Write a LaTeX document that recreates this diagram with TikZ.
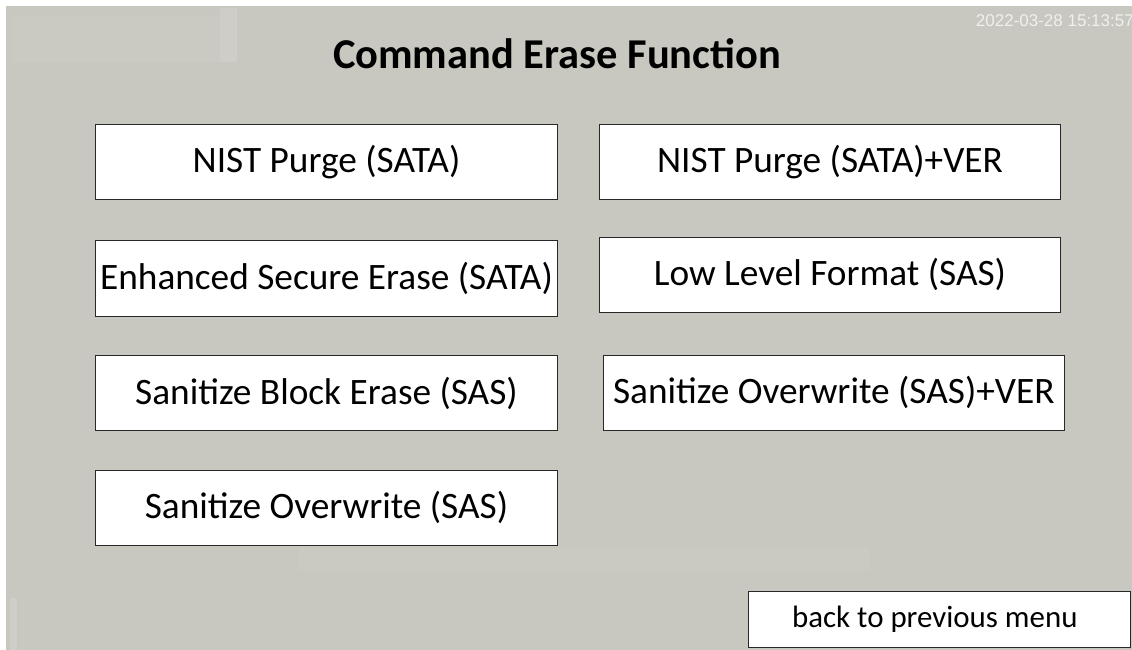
\documentclass[tikz,border=0pt]{standalone}
\usepackage{fontspec}
\setmainfont{Carlito}
\newfontfamily\stampfont{Liberation Sans}
\definecolor{bg}{RGB}{200,200,192}
\definecolor{bglight}{RGB}{202,202,195}
\definecolor{bglighter}{RGB}{206,205,199}
\definecolor{edge}{RGB}{40,40,40}
\definecolor{stamp}{RGB}{240,240,238}
\begin{document}
\begin{tikzpicture}[x=1pt,y=1pt,
  btn/.style={draw=edge, line width=0.9pt, fill=white, inner sep=0pt,
    font=\fontsize{37.3}{41}\selectfont, text=black},
  title/.style={font=\fontsize{42.5}{48}\selectfont\bfseries, text=black, inner sep=0pt},
  stamptext/.style={font=\stampfont\fontsize{17}{19}\selectfont, text=stamp, inner sep=0pt}]
\useasboundingbox (0,0) rectangle (1132,-650);
\fill[white] (0,0) rectangle (1132,-650);
\fill[bg] (6,-6) rectangle (1132,-650);
% faint lighter patches of the screen background
\fill[bglight] (12,-15) rectangle (220,-62);
\fill[bglighter] (220,-8) rectangle (237,-62);
\fill[bglight] (299,-548) rectangle (869,-571);
\fill[bglighter] (10,-598) rectangle (17,-650);
% title and time stamp
\node[title, anchor=base] (title) at (557,-69) {Command Erase Function};
\node[stamptext, anchor=base east] (stamp) at (1134,-27) {2022-03-28 15:13:57};
% buttons
\node[btn, minimum width=461.6pt, minimum height=75.3pt] (nist) at (326.5,-161.7) {NIST Purge (SATA)};
\node[btn, minimum width=461.4pt, minimum height=75.3pt] (nistver) at (830,-161.7) {NIST Purge (SATA)+VER};
\node[btn, minimum width=461.6pt, minimum height=75.3pt] (ese) at (326.5,-278.3) {Enhanced Secure Erase (SATA)};
\node[btn, minimum width=461.4pt, minimum height=75.3pt] (llf) at (830,-274.7) {Low Level Format (SAS)};
\node[btn, minimum width=461.6pt, minimum height=74.6pt] (sbe) at (326.5,-393) {Sanitize Block Erase (SAS)};
\node[btn, minimum width=461pt, minimum height=75pt] (sover) at (833.8,-392.8) {Sanitize Overwrite (SAS)+VER};
\node[btn, minimum width=461.6pt, minimum height=75.3pt] (sow) at (326.5,-507.7) {Sanitize Overwrite (SAS)};
\node[btn, font=\fontsize{30.9}{34}\selectfont, minimum width=382pt, minimum height=56pt] (back) at (939.3,-619.7) {\hspace*{-9pt}back to previous menu};
\end{tikzpicture}
\end{document}
